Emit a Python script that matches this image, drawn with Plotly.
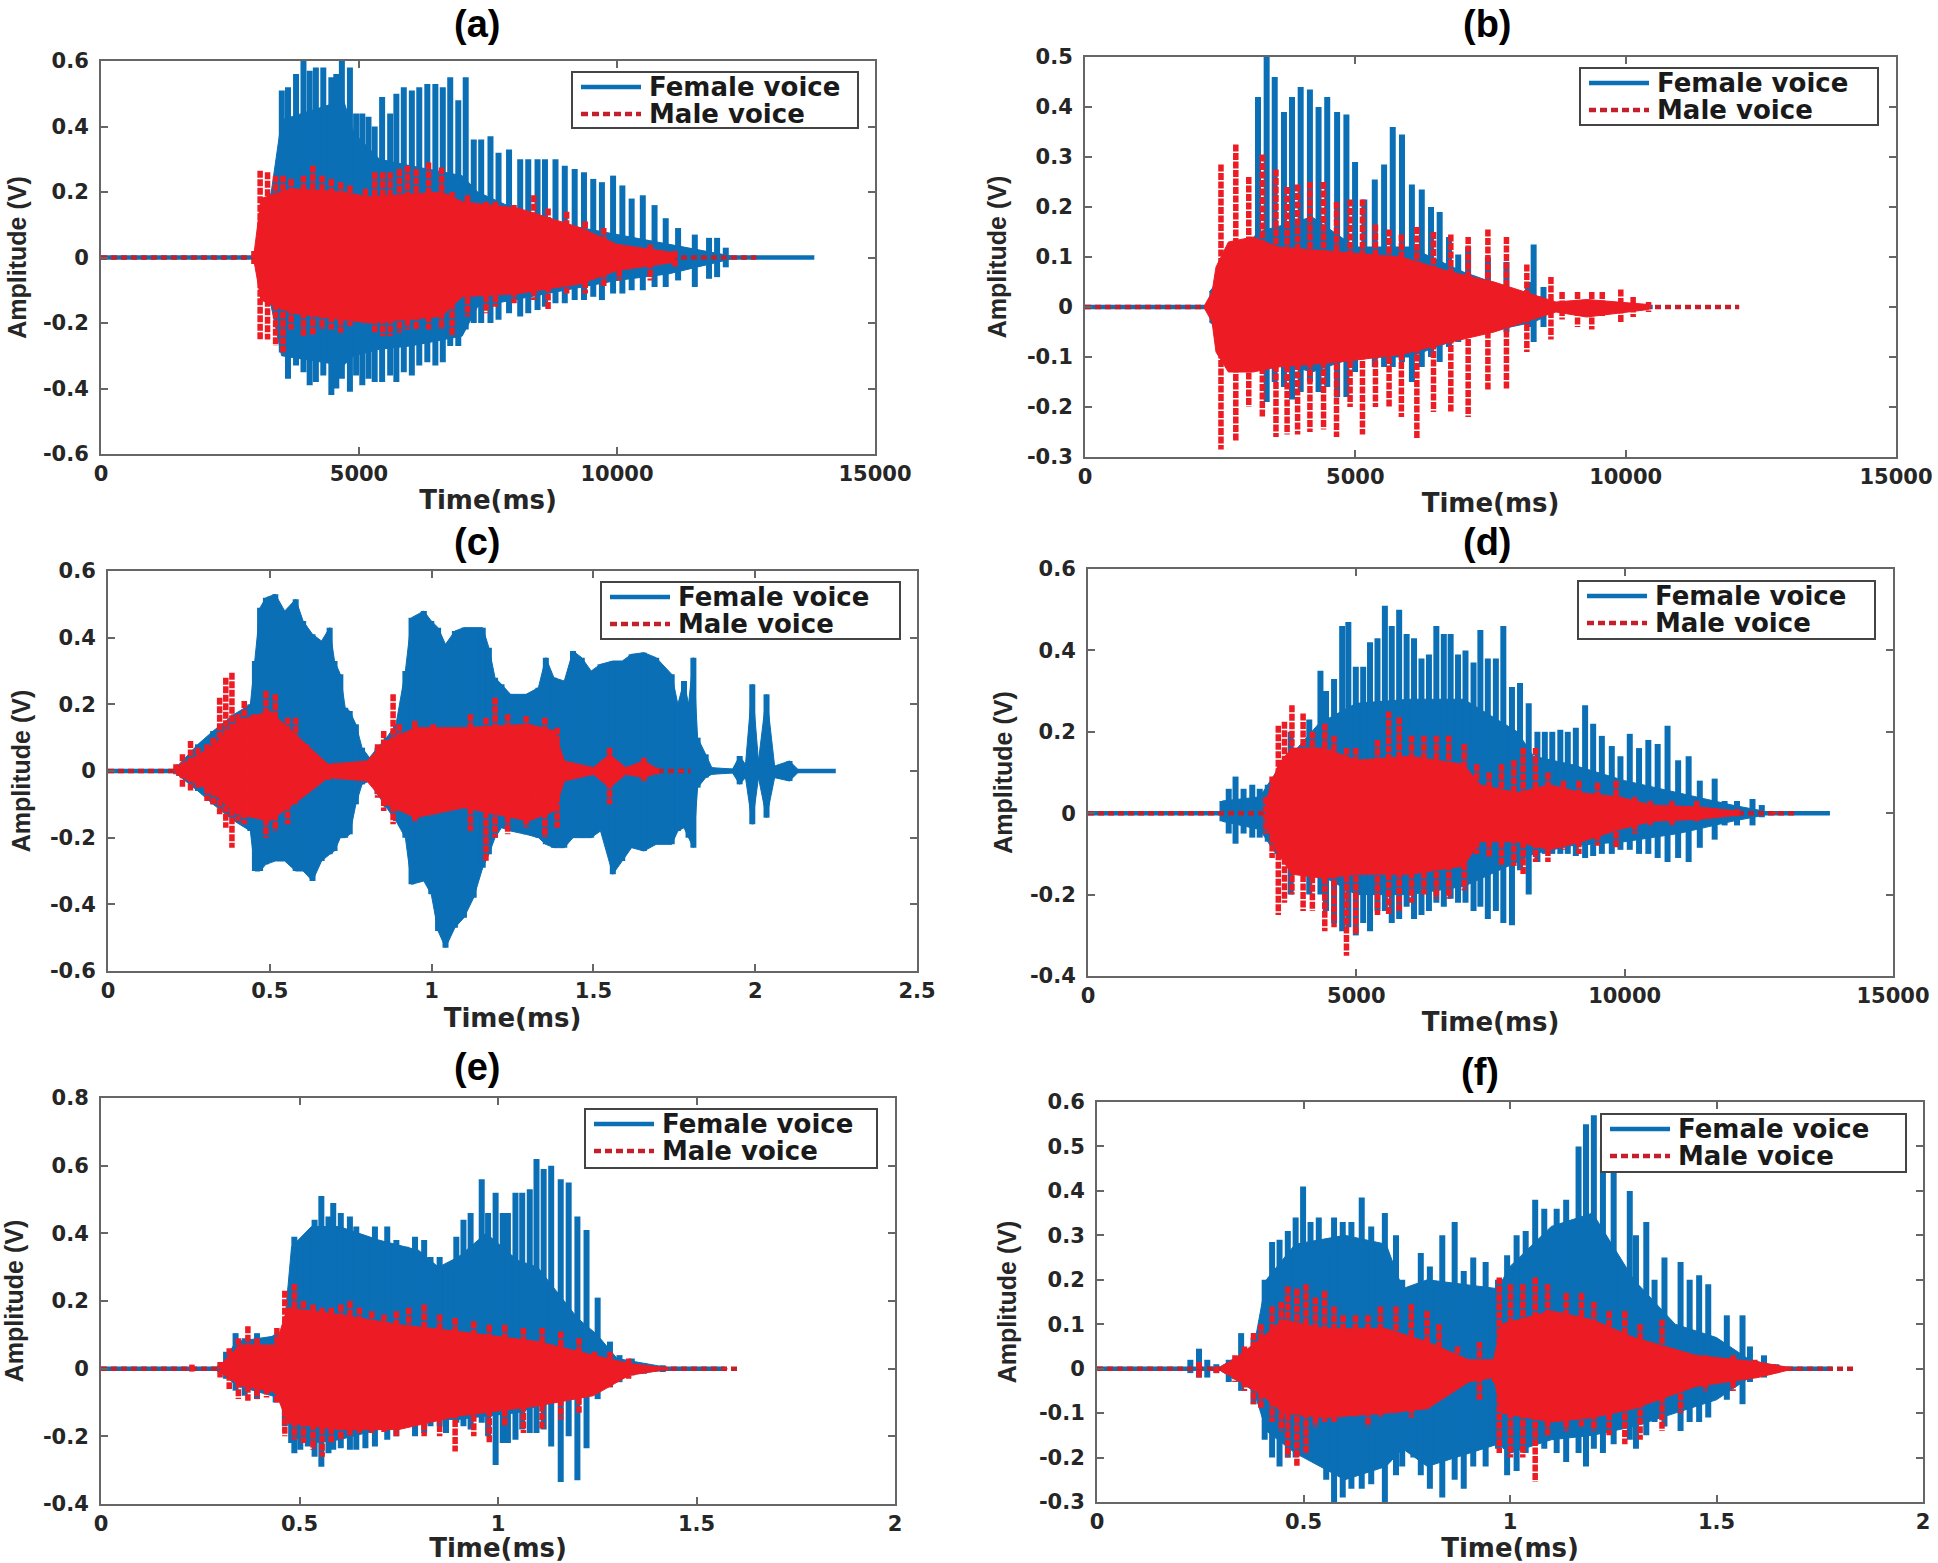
import plotly.graph_objects as go

WIDTH, HEIGHT = 1938, 1563
FEMALE_COLOR = "#0b6fb6"
MALE_COLOR = "#ed1c24"
MALE_KEY_COLOR = "#c4202c"
LEGEND_LABELS = ["Female voice", "Male voice"]

# ---------- panel (a) ----------
A_F_T = [3504,3624,3780,3924,4044,4164,4308,4464,4560,4668,4824,4944,5064,5184,5304,5448,5604,5724,5868,6024,6168,6324,6480,6624,6768,6924,7068,7224,7368,7548,7704,7908,8124,8280,8460,8604,8808,8988,9180,9360,9540,9708,9924,10104,10284,10500,10728,10944,11184,11508,11784,11940,12108]
A_F_UP = [.51,.52,.56,.6,.57,.58,.58,.55,.56,.6,.58,.44,.44,.43,.4,.49,.44,.5,.52,.51,.52,.53,.53,.52,.55,.48,.55,.36,.36,.37,.32,.33,.3,.3,.3,.3,.3,.28,.27,.26,.24,.23,.25,.22,.18,.19,.16,.12,.09,.07,.06,.06,.03]
A_F_LOW = [-.29,-.37,-.33,-.35,-.39,-.38,-.36,-.42,-.4,-.37,-.41,-.36,-.39,-.37,-.38,-.38,-.36,-.38,-.35,-.36,-.33,-.32,-.33,-.32,-.27,-.27,-.22,-.2,-.2,-.2,-.19,-.17,-.18,-.17,-.16,-.15,-.14,-.14,-.13,-.13,-.12,-.13,-.11,-.11,-.1,-.1,-.09,-.09,-.07,-.09,-.065,-.06,-.03]
A_F_CORE_T = [3000,3300,3500,4700,4900,5400,6000,7000,7300,8000,9000,10000,11000,12200]
A_F_CORE_UP = [.01,.2,.42,.48,.38,.3,.28,.25,.2,.15,.1,.07,.04,.005]
A_F_CORE_LOW = [-.01,-.15,-.3,-.33,-.3,-.28,-.27,-.24,-.15,-.13,-.1,-.07,-.05,-.005]
A_M_T = [2964,3084,3228,3384,3528,3684,3924,4104,4284,4464,4644,4824,5124,5304,5460,5604,5784,5940,6108,6348,6600,6804,7104,7464,7644,8004,8388,8664,9024,9384,9744,10044,10644,11124]
A_M_UP = [.02,.265,.26,.25,.25,.24,.25,.28,.25,.24,.23,.22,.21,.26,.26,.26,.27,.28,.27,.29,.275,.2,.19,.17,.17,.16,.19,.15,.14,.11,.09,.04,.04,.02]
A_M_LOW = [-.02,-.25,-.25,-.27,-.29,-.22,-.24,-.24,-.22,-.22,-.23,-.21,-.2,-.23,-.24,-.24,-.23,-.22,-.22,-.22,-.22,-.24,-.18,-.17,-.15,-.14,-.13,-.16,-.11,-.11,-.09,-.07,-.07,-.03]
A_M_CORE_T = [2964,3100,3700,4700,5200,6600,7000,8100,9300,10000,11100]
A_M_CORE_UP = [.01,.18,.21,.2,.185,.2,.17,.15,.09,.04,.015]
A_M_CORE_LOW = [-.01,-.13,-.17,-.19,-.2,-.18,-.12,-.11,-.08,-.04,-.015]

# ---------- panel (b) ----------
B_F_T = [3200,3360,3509,3680,3829,3989,4160,4320,4480,4663,4835,4995,5166,5360,5532,5692,5863,6046,6229,6400,6560,6732,6903,7086,7452,7795,8195,8298,8480]
B_F_UP = [.42,.5,.46,.39,.42,.44,.435,.4,.42,.39,.385,.29,.215,.255,.285,.36,.345,.245,.235,.2,.19,.14,.105,.12,.1,.09,.05,.125,.04]
B_F_LOW = [-.1,-.19,-.15,-.16,-.185,-.17,-.15,-.17,-.16,-.18,-.18,-.13,-.1,-.12,-.12,-.12,-.11,-.15,-.12,-.1,-.11,-.08,-.07,-.06,-.05,-.05,-.04,-.07,-.04]
B_F_CORE_T = [2300,3200,4200,5000,6000,7000,8300,8500]
B_F_CORE_UP = [.03,.15,.18,.12,.12,.07,.02,.02]
B_F_CORE_LOW = [-.03,-.1,-.13,-.1,-.1,-.06,-.03,-.02]
B_M_T = [2515,2789,3029,3280,3532,3738,3932,4160,4412,4652,4903,5132,5372,5624,5852,6138,6446,6766,7087,7452,7795,8172,8618,8824,9110,9373,9567,9910,10138,10424]
B_M_UP = [.285,.325,.26,.305,.275,.24,.245,.25,.25,.21,.215,.215,.165,.155,.145,.16,.15,.145,.14,.155,.14,.085,.06,.03,.03,.03,.03,.035,.02,.01]
B_M_LOW = [-.285,-.27,-.2,-.22,-.26,-.255,-.255,-.25,-.245,-.26,-.2,-.255,-.2,-.2,-.22,-.265,-.21,-.21,-.22,-.165,-.165,-.09,-.065,-.025,-.04,-.045,-.02,-.03,-.02,-.01]
B_M_CORE_T = [2195,2350,2423,2652,3109,3566,4709,5852,6767,7567,8138,8710,9281,10424]
B_M_CORE_UP = [.0,.03,.08,.13,.14,.12,.11,.1,.07,.05,.03,.01,.015,.005]
B_M_CORE_LOW = [-.0,-.03,-.09,-.13,-.13,-.12,-.11,-.095,-.07,-.05,-.03,-.01,-.02,-.005]

# ---------- panel (c) ----------
C_F_T = [.22,.278,.325,.39,.44,.454,.47,.488,.517,.546,.58,.603,.632,.66,.685,.70,.718,.733,.747,.766,.785,.808,.833,.861,.89,.919,.938,.976,.999,1.02,1.043,1.072,1.10,1.13,1.158,1.177,1.196,1.216,1.244,1.292,1.33,1.353,1.378,1.41,1.437,1.464,1.493,1.522,1.56,1.589,1.618,1.656,1.694,1.742,1.761,1.78,1.794,1.809,1.822,1.847,1.866,1.93,1.952,1.97,1.991,2.01,2.035,2.06,2.106,2.134]
C_F_UP = [.02,.08,.12,.17,.2,.33,.49,.52,.53,.48,.515,.45,.41,.39,.43,.33,.29,.19,.18,.14,.07,.04,.07,.1,.14,.3,.46,.48,.45,.43,.38,.42,.43,.43,.43,.37,.28,.26,.23,.23,.25,.34,.28,.27,.36,.34,.3,.32,.33,.33,.35,.355,.34,.29,.2,.27,.2,.34,.1,.05,.01,.006,.045,.02,.26,.03,.23,.015,.03,.003]
C_F_LOW = [-.015,-.06,-.1,-.15,-.18,-.3,-.3,-.28,-.27,-.27,-.3,-.3,-.33,-.27,-.25,-.24,-.2,-.2,-.19,-.1,-.04,-.03,-.07,-.11,-.15,-.2,-.34,-.33,-.37,-.48,-.53,-.47,-.44,-.38,-.29,-.25,-.2,-.17,-.18,-.19,-.2,-.22,-.23,-.23,-.2,-.2,-.2,-.18,-.31,-.27,-.23,-.24,-.22,-.22,-.18,-.17,-.2,-.23,-.05,-.02,-.01,-.006,-.04,-.02,-.16,-.02,-.14,-.02,-.03,-.003]
C_M_T = [.21,.23,.255,.278,.306,.325,.345,.364,.383,.402,.421,.45,.488,.517,.555,.58,.613,.641,.68,.737,.814,.833,.852,.881,.9,.948,1.005,1.063,1.12,1.168,1.196,1.235,1.292,1.35,1.388,1.41,1.484,1.55,1.58,1.656,1.694,1.77]
C_M_UP = [.02,.05,.09,.07,.08,.1,.22,.28,.295,.17,.21,.17,.24,.23,.16,.16,.08,.05,.02,.01,.03,.08,.12,.23,.14,.15,.14,.13,.17,.16,.22,.17,.165,.16,.13,.03,.01,.07,.01,.04,.01,.003]
C_M_LOW = [-.01,-.05,-.06,-.05,-.09,-.1,-.13,-.17,-.23,-.15,-.16,-.14,-.2,-.18,-.16,-.1,-.07,-.05,-.03,-.01,-.03,-.08,-.12,-.16,-.12,-.15,-.13,-.11,-.18,-.27,-.2,-.19,-.17,-.2,-.17,-.03,-.01,-.1,-.01,-.03,-.01,-.003]
C_M_CORE_T = [.21,.3,.34,.4,.5,.6,.68,.8,.86,.95,1.1,1.3,1.38,1.41,1.5,1.55,1.6,1.656,1.7]
C_M_CORE_UP = [.01,.06,.09,.15,.18,.09,.02,.03,.09,.13,.13,.14,.12,.03,.01,.05,.01,.03,.005]
C_M_CORE_LOW = [-.01,-.05,-.08,-.13,-.15,-.08,-.02,-.03,-.1,-.14,-.11,-.15,-.12,-.03,-.01,-.05,-.01,-.02,-.005]

# ---------- panel (d) ----------
D_F_T = [2506,2622,2749,2899,3061,3200,3350,3777,4123,4331,4435,4585,4736,4851,4990,5128,5255,5394,5532,5660,5798,5937,6075,6214,6353,6491,6630,6757,6895,7034,7184,7311,7450,7600,7739,7900,8050,8212,8374,8512,8651,8801,8940,9090,9263,9413,9575,9760,9921,10095,10268,10441,10615,10799,10996,11192,11400,11677,11862,12093,12382,12555]
D_F_UP = [.03,.06,.09,.06,.07,.06,.07,.2,.23,.35,.3,.33,.46,.47,.36,.36,.42,.43,.51,.46,.5,.44,.43,.38,.39,.46,.44,.44,.39,.4,.37,.45,.38,.38,.46,.31,.32,.27,.2,.2,.2,.205,.2,.21,.265,.22,.19,.165,.14,.195,.16,.18,.17,.215,.13,.14,.08,.085,.03,.03,.035,.02]
D_F_LOW = [-.02,-.05,-.075,-.05,-.06,-.06,-.07,-.2,-.2,-.2,-.24,-.27,-.29,-.28,-.3,-.27,-.29,-.24,-.24,-.27,-.26,-.23,-.26,-.25,-.24,-.22,-.23,-.21,-.22,-.22,-.24,-.23,-.26,-.24,-.27,-.275,-.14,-.2,-.12,-.1,-.1,-.1,-.1,-.105,-.11,-.105,-.1,-.1,-.09,-.09,-.1,-.1,-.11,-.12,-.11,-.12,-.085,-.065,-.03,-.03,-.03,-.01]
D_F_CORE_T = [2500,3200,3500,4300,5000,6000,7000,8000,8300,9000,10000,11000,12000,12600]
D_F_CORE_UP = [.03,.04,.1,.22,.27,.28,.28,.2,.14,.12,.08,.05,.02,.005]
D_F_CORE_LOW = [-.02,-.04,-.1,-.15,-.2,-.2,-.18,-.12,-.1,-.08,-.07,-.05,-.02,-.005]
D_M_T = [3315,3430,3546,3661,3800,4008,4181,4412,4585,4816,4990,5394,5602,5798,6029,6260,6491,6722,7011,7242,7473,7704,7935,8108,8339,8570,8859,9148,9494,9841,10187,10476,10880,11342,12093,12786]
D_M_UP = [.04,.09,.215,.225,.265,.245,.2,.22,.19,.16,.16,.18,.25,.235,.19,.19,.19,.19,.17,.12,.1,.12,.13,.16,.16,.1,.08,.08,.075,.08,.04,.03,.03,.03,.01,.003]
D_M_LOW = [-.05,-.11,-.25,-.22,-.2,-.24,-.24,-.29,-.28,-.35,-.3,-.25,-.25,-.24,-.22,-.2,-.21,-.21,-.19,-.1,-.11,-.13,-.13,-.15,-.12,-.12,-.09,-.1,-.08,-.085,-.05,-.03,-.03,-.02,-.01,-.003]
D_M_CORE_T = [3315,3546,3800,4400,5000,6000,7000,7300,8000,8600,9200,9900,10500,11400,12100]
D_M_CORE_UP = [.03,.12,.16,.16,.13,.14,.12,.07,.05,.07,.05,.04,.02,.015,.005]
D_M_CORE_LOW = [-.03,-.1,-.15,-.16,-.15,-.15,-.13,-.07,-.07,-.09,-.07,-.04,-.02,-.015,-.005]

# ---------- panel (e) ----------
E_F_T = [.3,.315,.339,.362,.393,.417,.44,.463,.479,.487,.502,.521,.538,.555,.573,.585,.604,.627,.643,.666,.69,.721,.744,.768,.791,.814,.83,.853,.869,.895,.913,.931,.959,.975,.994,1.012,1.025,1.044,1.061,1.08,1.097,1.115,1.134,1.158,1.178,1.2,1.223,1.251,1.282,1.306,1.337,1.368,1.415,1.493]
E_F_UP = [.01,.05,.105,.09,.105,.08,.1,.12,.24,.39,.37,.39,.44,.51,.45,.49,.46,.45,.42,.38,.42,.42,.38,.36,.39,.38,.33,.33,.3,.39,.44,.46,.56,.46,.52,.46,.46,.52,.52,.53,.62,.59,.6,.56,.55,.45,.41,.21,.08,.04,.03,.015,.01,.004]
E_F_LOW = [-.01,-.03,-.065,-.08,-.09,-.07,-.1,-.17,-.22,-.25,-.24,-.23,-.26,-.29,-.25,-.24,-.235,-.24,-.24,-.235,-.23,-.21,-.2,-.17,-.2,-.19,-.17,-.17,-.19,-.16,-.17,-.18,-.16,-.2,-.285,-.22,-.22,-.21,-.18,-.19,-.19,-.18,-.23,-.335,-.2,-.33,-.235,-.09,-.055,-.04,-.02,-.015,-.01,-.003]
E_F_CORE_T = [.3,.34,.46,.48,.53,.6,.7,.8,.85,.9,.97,1.05,1.1,1.2,1.25,1.3,1.42]
E_F_CORE_UP = [.005,.08,.1,.36,.42,.42,.38,.35,.3,.33,.4,.32,.3,.15,.1,.03,.005]
E_F_CORE_LOW = [-.005,-.05,-.09,-.2,-.22,-.21,-.18,-.16,-.15,-.15,-.14,-.13,-.11,-.08,-.05,-.02,-.005]
E_M_T = [.229,.3,.323,.346,.37,.393,.417,.443,.463,.487,.51,.534,.557,.58,.604,.627,.651,.682,.713,.744,.775,.814,.853,.892,.939,.978,1.017,1.064,1.111,1.158,1.204,1.243,1.282,1.329,1.368,1.423,1.571]
E_M_UP = [.012,.02,.06,.09,.125,.09,.07,.12,.23,.25,.2,.19,.18,.18,.19,.2,.18,.17,.16,.17,.18,.19,.16,.15,.14,.13,.13,.12,.12,.11,.09,.05,.05,.03,.01,.005,.002]
E_M_LOW = [-.012,-.03,-.06,-.09,-.095,-.09,-.085,-.1,-.2,-.21,-.22,-.24,-.26,-.22,-.21,-.2,-.19,-.19,-.19,-.2,-.16,-.2,-.2,-.245,-.2,-.22,-.17,-.19,-.18,-.15,-.13,-.06,-.055,-.03,-.015,-.005,-.002]
E_M_CORE_T = [.3,.35,.44,.47,.6,.75,.9,1.1,1.24,1.33,1.42]
E_M_CORE_UP = [.01,.07,.07,.18,.16,.13,.11,.08,.04,.015,.003]
E_M_CORE_LOW = [-.01,-.05,-.07,-.16,-.18,-.18,-.14,-.11,-.08,-.02,-.003]

# ---------- panel (f) ----------
F_F_T = [.226,.247,.267,.289,.319,.349,.379,.406,.424,.442,.462,.481,.499,.517,.537,.555,.574,.595,.616,.641,.664,.697,.724,.739,.766,.784,.806,.836,.866,.888,.911,.941,.971,.993,1.016,1.038,1.061,1.083,1.113,1.136,1.166,1.184,1.203,1.225,1.251,1.29,1.305,1.33,1.35,1.374,1.413,1.435,1.458,1.48,1.525,1.563,1.581,1.615,1.645,1.697]
F_F_UP = [.02,.045,.02,.01,.02,.08,.07,.2,.285,.29,.31,.34,.41,.33,.34,.25,.34,.33,.33,.385,.32,.35,.3,.2,.16,.26,.23,.3,.33,.22,.25,.24,.2,.255,.3,.31,.38,.36,.36,.38,.5,.55,.57,.5,.45,.4,.3,.33,.2,.25,.24,.2,.21,.19,.12,.12,.05,.03,.01,.003]
F_F_LOW = [-.01,-.02,-.02,-.01,-.03,-.05,-.08,-.16,-.2,-.22,-.2,-.2,-.18,-.2,-.21,-.25,-.3,-.29,-.27,-.27,-.26,-.3,-.24,-.22,-.2,-.24,-.27,-.29,-.25,-.27,-.22,-.22,-.18,-.24,-.23,-.19,-.17,-.18,-.19,-.21,-.19,-.22,-.18,-.19,-.17,-.16,-.18,-.15,-.12,-.13,-.14,-.12,-.12,-.11,-.07,-.08,-.03,-.02,-.01,-.002]
F_F_CORE_T = [.3,.38,.41,.48,.6,.7,.74,.8,.97,1.0,1.1,1.2,1.3,1.4,1.5,1.58,1.65]
F_F_CORE_UP = [.005,.05,.2,.28,.3,.28,.18,.2,.18,.23,.32,.35,.2,.1,.07,.02,.005]
F_F_CORE_LOW = [-.005,-.05,-.14,-.19,-.25,-.22,-.18,-.22,-.17,-.19,-.16,-.15,-.13,-.1,-.07,-.02,-.005]
F_M_T = [.247,.289,.334,.357,.379,.397,.424,.446,.462,.484,.506,.529,.551,.574,.596,.626,.656,.686,.724,.761,.799,.828,.873,.926,.963,.974,1.001,1.031,1.061,1.091,1.136,1.173,1.203,1.24,1.278,1.315,1.368,1.413,1.473,1.54,1.593,1.637,1.697]
F_M_UP = [.015,.005,.03,.05,.08,.1,.14,.15,.185,.18,.19,.16,.175,.14,.12,.12,.12,.14,.14,.145,.13,.1,.05,.06,.02,.205,.19,.19,.205,.19,.17,.17,.15,.13,.13,.1,.11,.04,.03,.03,.02,.01,.002]
F_M_LOW = [-.02,-.01,-.03,-.05,-.08,-.09,-.12,-.14,-.2,-.22,-.19,-.13,-.12,-.12,-.11,-.11,-.13,-.11,-.1,-.11,-.09,-.05,-.04,-.07,-.03,-.19,-.2,-.2,-.255,-.15,-.14,-.13,-.14,-.15,-.17,-.16,-.14,-.1,-.05,-.05,-.02,-.01,-.002]
F_M_CORE_T = [.3,.33,.4,.45,.55,.7,.8,.9,.96,.98,1.1,1.2,1.3,1.45,1.6,1.68]
F_M_CORE_UP = [.005,.02,.07,.11,.09,.09,.06,.02,.02,.1,.13,.11,.07,.03,.015,.002]
F_M_CORE_LOW = [-.005,-.02,-.06,-.1,-.11,-.1,-.09,-.03,-.02,-.1,-.12,-.11,-.09,-.04,-.02,-.002]

# panel definitions: label, plot box in page pixels, axes, legend box, label centre
PANELS = [
    dict(label="(a)", box=(101, 875, 61, 454), xr=(0, 15000), yr=(-.6, .6),
         xt=[0, 5000, 10000, 15000], yt=[-.6, -.4, -.2, 0, .2, .4, .6],
         f_end=13824, m_end=12700,
         f=(A_F_T, A_F_UP, A_F_LOW), fc=(A_F_CORE_T, A_F_CORE_UP, A_F_CORE_LOW),
         m=(A_M_T, A_M_UP, A_M_LOW), mc=(A_M_CORE_T, A_M_CORE_UP, A_M_CORE_LOW),
         leg=(572, 858, 72, 128), lab=(477, 24), ysd=9),
    dict(label="(b)", box=(1085, 1896, 57, 457), xr=(0, 15000), yr=(-.3, .5),
         xt=[0, 5000, 10000, 15000], yt=[-.3, -.2, -.1, 0, .1, .2, .3, .4, .5],
         f_end=10500, m_end=12100,
         f=(B_F_T, B_F_UP, B_F_LOW), fc=(B_F_CORE_T, B_F_CORE_UP, B_F_CORE_LOW),
         m=(B_M_T, B_M_UP, B_M_LOW), mc=(B_M_CORE_T, B_M_CORE_UP, B_M_CORE_LOW),
         leg=(1580, 1878, 68, 125), lab=(1487, 24), ysd=13),
    dict(label="(c)", box=(108, 917, 571, 971), xr=(0, 2.5), yr=(-.6, .6),
         xt=[0, .5, 1, 1.5, 2, 2.5], yt=[-.6, -.4, -.2, 0, .2, .4, .6],
         f_end=2.249, m_end=1.8,
         f=(C_F_T, C_F_UP, C_F_LOW), fc=(C_F_T, C_F_UP, C_F_LOW),
         m=(C_M_T, C_M_UP, C_M_LOW), mc=(C_M_CORE_T, C_M_CORE_UP, C_M_CORE_LOW),
         leg=(601, 900, 582, 639), lab=(477, 542), ysd=12),
    dict(label="(d)", box=(1088, 1893, 569, 976), xr=(0, 15000), yr=(-.4, .6),
         xt=[0, 5000, 10000, 15000], yt=[-.4, -.2, 0, .2, .4, .6],
         f_end=13825, m_end=13190,
         f=(D_F_T, D_F_UP, D_F_LOW), fc=(D_F_CORE_T, D_F_CORE_UP, D_F_CORE_LOW),
         m=(D_M_T, D_M_UP, D_M_LOW), mc=(D_M_CORE_T, D_M_CORE_UP, D_M_CORE_LOW),
         leg=(1578, 1875, 581, 639), lab=(1487, 542), ysd=10),
    dict(label="(e)", box=(101, 895, 1098, 1504), xr=(0, 2), yr=(-.4, .8),
         xt=[0, .5, 1, 1.5, 2], yt=[-.4, -.2, 0, .2, .4, .6, .8],
         f_end=1.571, m_end=1.602,
         f=(E_F_T, E_F_UP, E_F_LOW), fc=(E_F_CORE_T, E_F_CORE_UP, E_F_CORE_LOW),
         m=(E_M_T, E_M_UP, E_M_LOW), mc=(E_M_CORE_T, E_M_CORE_UP, E_M_CORE_LOW),
         leg=(585, 877, 1109, 1168), lab=(477, 1067), ysd=15),
    dict(label="(f)", box=(1097, 1923, 1102, 1502), xr=(0, 2), yr=(-.3, .6),
         xt=[0, .5, 1, 1.5, 2], yt=[-.3, -.2, -.1, 0, .1, .2, .3, .4, .5, .6],
         f_end=1.78, m_end=1.832,
         f=(F_F_T, F_F_UP, F_F_LOW), fc=(F_F_CORE_T, F_F_CORE_UP, F_F_CORE_LOW),
         m=(F_M_T, F_M_UP, F_M_LOW), mc=(F_M_CORE_T, F_M_CORE_UP, F_M_CORE_LOW),
         leg=(1601, 1906, 1114, 1172), lab=(1480, 1072), ysd=15),
]

TEXT = "#262626"
AXIS = "#666666"


def tick_text(v):
    return f"{v:g}"


def spikes(t, up, low):
    xs, ys = [], []
    for a, b, c in zip(t, up, low):
        xs += [a, a, None]
        ys += [b, c, None]
    return xs, ys


def px(x):
    return x / WIDTH


def py(y):
    return 1 - y / HEIGHT


fig = go.Figure()
layout = dict(
    width=WIDTH, height=HEIGHT, autosize=False,
    margin=dict(l=0, r=0, t=0, b=0),
    paper_bgcolor="white", plot_bgcolor="white",
    showlegend=False,
    annotations=[], shapes=[],
)

for i, p in enumerate(PANELS):
    n = "" if i == 0 else str(i + 1)
    xa, ya = "x" + n, "y" + n
    for who, color, dash, name, end, sp, core in (
        ("f", FEMALE_COLOR, "solid", LEGEND_LABELS[0], p["f_end"], p["f"], p["fc"]),
        ("m", MALE_COLOR, "6px,4px", LEGEND_LABELS[1], p["m_end"], p["m"], p["mc"]),
    ):
        fig.add_trace(go.Scatter(
            x=[0, end], y=[0, 0], mode="lines", name=name, xaxis=xa, yaxis=ya,
            line=dict(color=MALE_KEY_COLOR if who == "m" else color, width=4.5, dash=dash),
            hoverinfo="skip"))
        ct, cu, cl = core
        fig.add_trace(go.Scatter(
            x=list(ct) + list(ct)[::-1], y=list(cu) + list(cl)[::-1],
            mode="lines", fill="toself", fillcolor=color,
            line=dict(color=color, width=1), xaxis=xa, yaxis=ya, hoverinfo="skip"))
        xs, ys = spikes(*sp)
        fig.add_trace(go.Scatter(
            x=xs, y=ys, mode="lines", xaxis=xa, yaxis=ya,
            line=dict(color=color, width=6 if who == "f" else 5.5,
                      dash="solid" if who == "f" else "7px,1.5px"),
            connectgaps=False, hoverinfo="skip"))

    l, r, t, b = p["box"]
    axis_common = dict(
        automargin=False,
        showgrid=False, zeroline=False, showline=True, linecolor=AXIS, linewidth=2,
        mirror="ticks", ticks="inside", ticklen=7, tickwidth=2, tickcolor=AXIS,
        tickfont=dict(family="DejaVu Sans", size=21, weight="bold", color=TEXT),
    )
    layout["xaxis" + n] = dict(
        domain=[px(l), px(r)], range=list(p["xr"]), anchor=ya,
        tickvals=p["xt"], ticktext=[tick_text(v) for v in p["xt"]],
        title=dict(text="Time(ms)", standoff=6,
                   font=dict(family="DejaVu Sans", size=26, weight="bold", color=TEXT)),
        **axis_common)
    layout["yaxis" + n] = dict(
        domain=[py(b), py(t)], range=list(p["yr"]), anchor=xa,
        tickvals=p["yt"], ticktext=[tick_text(v) for v in p["yt"]], ticklabelstandoff=6,
        title=dict(text="Amplitude (V)", standoff=p["ysd"],
                   font=dict(family="Liberation Sans", size=25, weight="bold", color=TEXT)),
        **axis_common)

    # legend box, drawn so that its size follows the reference
    x0, x1, y0, y1 = p["leg"]
    row1, row2 = y0 + 15, y0 + 42
    layout["shapes"].append(dict(
        type="rect", xref="paper", yref="paper", x0=px(x0), x1=px(x1), y0=py(y1), y1=py(y0),
        fillcolor="white", line=dict(color="#444444", width=2), layer="above"))
    for row, color, dash, label in (
        (row1, FEMALE_COLOR, "solid", LEGEND_LABELS[0]),
        (row2, MALE_KEY_COLOR, "7px,4px", LEGEND_LABELS[1]),
    ):
        layout["shapes"].append(dict(
            type="line", xref="paper", yref="paper", x0=px(x0 + 9), x1=px(x0 + 69),
            y0=py(row), y1=py(row), line=dict(color=color, width=4.5, dash=dash),
            layer="above"))
        layout["annotations"].append(dict(
            text=label, x=px(x0 + 75), y=py(row), xref="paper", yref="paper",
            xanchor="left", yanchor="middle", showarrow=False,
            font=dict(family="DejaVu Sans", size=26, weight="bold", color="#1a1a1a")))

    cx, cy = p["lab"]
    layout["annotations"].append(dict(
        text=p["label"], x=px(cx), y=py(cy), xref="paper", yref="paper",
        xanchor="center", yanchor="middle", showarrow=False,
        font=dict(family="Liberation Sans", size=38, weight="bold", color="black")))

fig.update_layout(**layout)
fig.write_html("out.html", config={"displayModeBar": False},
               post_script="document.body.style.margin='0';")
